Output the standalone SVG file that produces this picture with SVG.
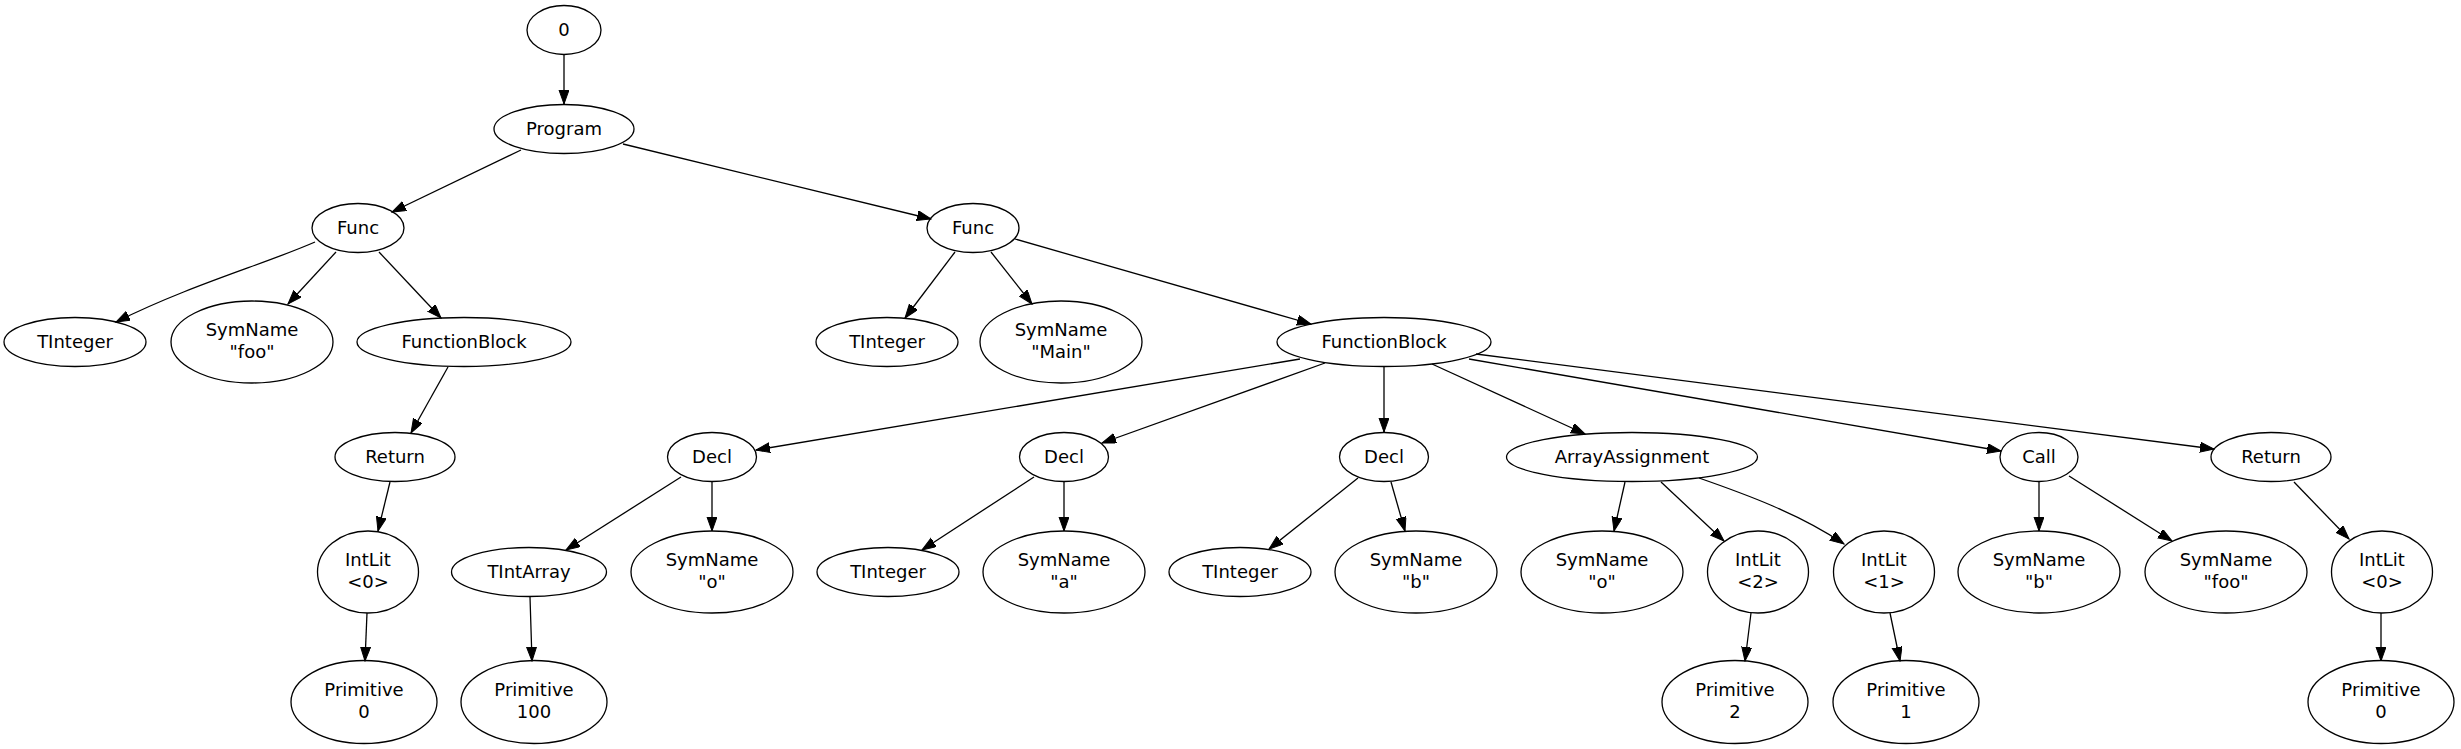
<svg xmlns="http://www.w3.org/2000/svg" width="2461" height="749" viewBox="0 0 2461 749">
<style>
.n ellipse{fill:none;stroke:#000;stroke-width:1.3}
.n text{font-family:"DejaVu Sans",sans-serif;font-size:18px;text-anchor:middle;fill:#000}
#edges path{fill:none;stroke:#000;stroke-width:1.3;marker-end:url(#ah)}
</style>
<defs>
<marker id="ah" markerUnits="userSpaceOnUse" markerWidth="15" markerHeight="11" refX="14" refY="5" orient="auto">
<path d="M0,0 L14,5 L0,10 z" fill="#000" stroke="#000" stroke-width="1"/>
</marker>
</defs>
<rect width="2461" height="749" fill="#fff"/>
<g id="edges">
<path d="M564,55 L564,104"/>
<path d="M521,150 L392,212"/>
<path d="M623,144 L931,219"/>
<path d="M315,242 C265,264 190,285 116,322"/>
<path d="M336,252 L288,304"/>
<path d="M379,252 L441,318"/>
<path d="M448,367 L411,433"/>
<path d="M390,482 L378,531"/>
<path d="M367,613 L365,661"/>
<path d="M955,252 L905,318"/>
<path d="M991,252 L1032,304"/>
<path d="M1015,239 L1311,324"/>
<path d="M1300,359 L756,450"/>
<path d="M1325,363 L1102,443"/>
<path d="M1384,367 L1384,432"/>
<path d="M1432,364 L1585,434"/>
<path d="M1469,359 L2001,451"/>
<path d="M1476,354 L2214,449"/>
<path d="M681,477 L566,550"/>
<path d="M712,482 L712,531"/>
<path d="M530,597 L532,661"/>
<path d="M1034,477 L922,550"/>
<path d="M1064,482 L1064,531"/>
<path d="M1358,478 L1269,549"/>
<path d="M1391,482 L1405,531"/>
<path d="M1625,482 L1614,531"/>
<path d="M1661,482 L1724,541"/>
<path d="M1699,478 C1745,494 1800,514 1844,544"/>
<path d="M2039,482 L2039,531"/>
<path d="M2069,476 L2172,541"/>
<path d="M2294,482 L2349,539"/>
<path d="M2381,613 L2381,661"/>
<path d="M1751,613 L1745,661"/>
<path d="M1890,613 L1900,661"/>
</g>
<g id="n0" class="n"><ellipse cx="564" cy="30" rx="37" ry="24.5"/><text x="564" y="36">0</text></g>
<g id="program" class="n"><ellipse cx="564" cy="129" rx="70" ry="24.5"/><text x="564" y="135">Program</text></g>
<g id="func1" class="n"><ellipse cx="358" cy="228" rx="46" ry="24.5"/><text x="358" y="234">Func</text></g>
<g id="tinteger1" class="n"><ellipse cx="75" cy="342" rx="71" ry="24.5"/><text x="75" y="348">TInteger</text></g>
<g id="symname_foo1" class="n"><ellipse cx="252" cy="342" rx="81" ry="41"/><text x="252" y="336">SymName</text><text x="252" y="357.5">"foo"</text></g>
<g id="functionblock1" class="n"><ellipse cx="464" cy="342" rx="107" ry="24.5"/><text x="464" y="348">FunctionBlock</text></g>
<g id="return1" class="n"><ellipse cx="395" cy="457" rx="60" ry="24.5"/><text x="395" y="463">Return</text></g>
<g id="intlit0_1" class="n"><ellipse cx="368" cy="572" rx="50.5" ry="41"/><text x="368" y="566">IntLit</text><text x="368" y="587.5">&lt;0&gt;</text></g>
<g id="primitive0_1" class="n"><ellipse cx="364" cy="702" rx="73" ry="41.5"/><text x="364" y="696">Primitive</text><text x="364" y="717.5">0</text></g>
<g id="func2" class="n"><ellipse cx="973" cy="228" rx="46" ry="24.5"/><text x="973" y="234">Func</text></g>
<g id="tinteger2" class="n"><ellipse cx="887" cy="342" rx="71" ry="24.5"/><text x="887" y="348">TInteger</text></g>
<g id="symname_main" class="n"><ellipse cx="1061" cy="342" rx="81" ry="41"/><text x="1061" y="336">SymName</text><text x="1061" y="357.5">"Main"</text></g>
<g id="functionblock2" class="n"><ellipse cx="1384" cy="342" rx="107" ry="24.5"/><text x="1384" y="348">FunctionBlock</text></g>
<g id="decl1" class="n"><ellipse cx="712" cy="457" rx="44.5" ry="24.5"/><text x="712" y="463">Decl</text></g>
<g id="tintarray" class="n"><ellipse cx="529" cy="572" rx="77.5" ry="24.5"/><text x="529" y="578">TIntArray</text></g>
<g id="primitive100" class="n"><ellipse cx="534" cy="702" rx="73" ry="41.5"/><text x="534" y="696">Primitive</text><text x="534" y="717.5">100</text></g>
<g id="symname_o1" class="n"><ellipse cx="712" cy="572" rx="81" ry="41"/><text x="712" y="566">SymName</text><text x="712" y="587.5">"o"</text></g>
<g id="decl2" class="n"><ellipse cx="1064" cy="457" rx="44.5" ry="24.5"/><text x="1064" y="463">Decl</text></g>
<g id="tinteger3" class="n"><ellipse cx="888" cy="572" rx="71" ry="24.5"/><text x="888" y="578">TInteger</text></g>
<g id="symname_a" class="n"><ellipse cx="1064" cy="572" rx="81" ry="41"/><text x="1064" y="566">SymName</text><text x="1064" y="587.5">"a"</text></g>
<g id="decl3" class="n"><ellipse cx="1384" cy="457" rx="44.5" ry="24.5"/><text x="1384" y="463">Decl</text></g>
<g id="tinteger4" class="n"><ellipse cx="1240" cy="572" rx="71" ry="24.5"/><text x="1240" y="578">TInteger</text></g>
<g id="symname_b1" class="n"><ellipse cx="1416" cy="572" rx="81" ry="41"/><text x="1416" y="566">SymName</text><text x="1416" y="587.5">"b"</text></g>
<g id="arrayassignment" class="n"><ellipse cx="1632" cy="457" rx="125.5" ry="24.5"/><text x="1632" y="463">ArrayAssignment</text></g>
<g id="symname_o2" class="n"><ellipse cx="1602" cy="572" rx="81" ry="41"/><text x="1602" y="566">SymName</text><text x="1602" y="587.5">"o"</text></g>
<g id="intlit2" class="n"><ellipse cx="1758" cy="572" rx="50.5" ry="41"/><text x="1758" y="566">IntLit</text><text x="1758" y="587.5">&lt;2&gt;</text></g>
<g id="primitive2" class="n"><ellipse cx="1735" cy="702" rx="73" ry="41.5"/><text x="1735" y="696">Primitive</text><text x="1735" y="717.5">2</text></g>
<g id="intlit1" class="n"><ellipse cx="1884" cy="572" rx="50.5" ry="41"/><text x="1884" y="566">IntLit</text><text x="1884" y="587.5">&lt;1&gt;</text></g>
<g id="primitive1" class="n"><ellipse cx="1906" cy="702" rx="73" ry="41.5"/><text x="1906" y="696">Primitive</text><text x="1906" y="717.5">1</text></g>
<g id="call" class="n"><ellipse cx="2039" cy="457" rx="39" ry="24.5"/><text x="2039" y="463">Call</text></g>
<g id="symname_b2" class="n"><ellipse cx="2039" cy="572" rx="81" ry="41"/><text x="2039" y="566">SymName</text><text x="2039" y="587.5">"b"</text></g>
<g id="symname_foo2" class="n"><ellipse cx="2226" cy="572" rx="81" ry="41"/><text x="2226" y="566">SymName</text><text x="2226" y="587.5">"foo"</text></g>
<g id="return2" class="n"><ellipse cx="2271" cy="457" rx="60" ry="24.5"/><text x="2271" y="463">Return</text></g>
<g id="intlit0_2" class="n"><ellipse cx="2382" cy="572" rx="50.5" ry="41"/><text x="2382" y="566">IntLit</text><text x="2382" y="587.5">&lt;0&gt;</text></g>
<g id="primitive0_2" class="n"><ellipse cx="2381" cy="702" rx="73" ry="41.5"/><text x="2381" y="696">Primitive</text><text x="2381" y="717.5">0</text></g>
</svg>
